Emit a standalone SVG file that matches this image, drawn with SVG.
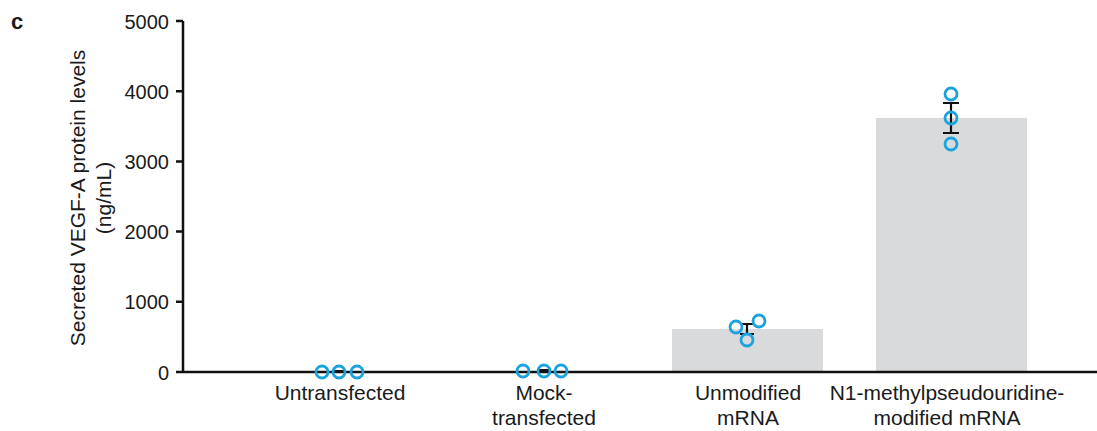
<svg xmlns="http://www.w3.org/2000/svg" width="1097" height="431" viewBox="0 0 1097 431">
<style>
text{font-family:"Liberation Sans",Arial,sans-serif;fill:#1a1a1a}
.tick{font-size:20px;text-anchor:end}
.lab{font-size:21px;text-anchor:middle}
.axis{stroke:#111;stroke-width:2.5;fill:none}
.bar{fill:#d9dadc}
.pt{fill:none;stroke:#1ba3dd;stroke-width:2.8}
.err{stroke:#111;stroke-width:2.2;fill:none}
</style>
<rect width="1097" height="431" fill="#fff"/>
<text x="11" y="29" style="font-size:22px;font-weight:bold">c</text>
<g id="y-title">
<text class="lab" transform="translate(85,198) rotate(-90)">Secreted VEGF-A protein levels</text>
<text class="lab" transform="translate(111,198) rotate(-90)">(ng/mL)</text>
</g>
<g id="bars">
<rect id="bar-unmodified" class="bar" x="672" y="329" width="151" height="43"/>
<rect id="bar-n1" class="bar" x="876" y="118" width="151" height="254"/>
</g>
<g id="axes">
<path class="axis" d="M183,21V372M176,21H183M176,91.2H183M176,161.4H183M176,231.6H183M176,301.8H183M176,372H183M182,372H1097"/>
<text class="tick" x="169" y="28.5">5000</text>
<text class="tick" x="169" y="98.7">4000</text>
<text class="tick" x="169" y="168.9">3000</text>
<text class="tick" x="169" y="239.1">2000</text>
<text class="tick" x="169" y="309.3">1000</text>
<text class="tick" x="169" y="379.5">0</text>
</g>
<g id="connectors">
<path class="err" d="M334,371H345M538,370H550M740,324H754M747,324V334M740,334H754M943,103H959M951,103V133M943,133H959"/>
</g>
<g id="points">
<circle class="pt" cx="322" cy="372" r="6"/>
<circle class="pt" cx="339" cy="372" r="6"/>
<circle class="pt" cx="357" cy="372" r="6"/>
<circle class="pt" cx="523" cy="371" r="6"/>
<circle class="pt" cx="544" cy="371" r="6"/>
<circle class="pt" cx="561" cy="371" r="6"/>
<circle class="pt" cx="736" cy="327" r="6"/>
<circle class="pt" cx="759" cy="321" r="6"/>
<circle class="pt" cx="747" cy="340" r="6"/>
<circle class="pt" cx="951" cy="94" r="6"/>
<circle class="pt" cx="951" cy="118" r="6"/>
<circle class="pt" cx="951" cy="144" r="6"/>
</g>
<g id="x-labels">
<text class="lab" x="340" y="400">Untransfected</text>
<text class="lab" x="544" y="400">Mock-</text>
<text class="lab" x="544" y="425">transfected</text>
<text class="lab" x="748" y="400">Unmodified</text>
<text class="lab" x="748" y="425">mRNA</text>
<text class="lab" x="947" y="400">N1-methylpseudouridine-</text>
<text class="lab" x="947" y="425">modified mRNA</text>
</g>
</svg>
